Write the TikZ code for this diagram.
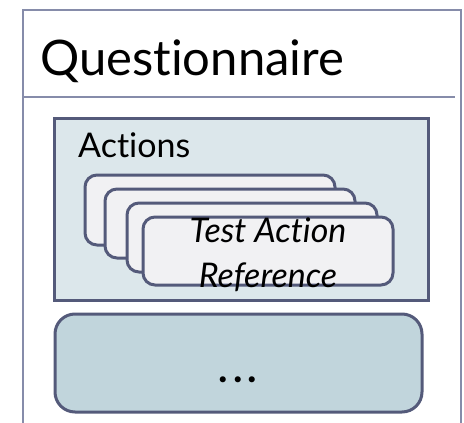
\documentclass[tikz,border=0pt]{standalone}
\usepackage{fontspec}
\setmainfont{Lato}[Ligatures={NoCommon},Contextuals={NoAlternate}]
\definecolor{frameline}{HTML}{868CAA}
\definecolor{boxline}{HTML}{545A7A}
\definecolor{actionsfill}{HTML}{DCE7EB}
\definecolor{cardfill}{HTML}{F1F1F3}
\definecolor{morefill}{HTML}{C1D5DC}
\tikzset{
  px/.style={x=1pt,y=-1pt},
  card/.style={draw=boxline,line width=3pt,fill=cardfill,rounded corners=12pt},
  group/.style={draw=boxline,line width=3pt},
}
\begin{document}
\begin{tikzpicture}[px]
\useasboundingbox (0,0) rectangle (464,423);
% outer frame, open at the bottom
\draw[frameline,line width=2.5pt] (23,423) -- (23,10) -- (461,10) -- (461,423);
\draw[frameline,line width=2.5pt] (23,97) -- (455,97);
\node[anchor=base west,inner sep=0,font=\fontsize{49}{55}\selectfont] (title) at (40,75) {Questionnaire};
% actions container
\draw[group,fill=actionsfill] (54,118) rectangle (428,300);
\node[anchor=base west,inner sep=0,font=\fontsize{34}{40}\selectfont] (actions) at (78,157) {Actions};
% stacked cards
\draw[card] (85,175) rectangle (335,245);
\draw[card] (105,189) rectangle (355,258);
\draw[card] (127,203) rectangle (377,272);
\draw[card] (143,217) rectangle (393,285);
\node[anchor=base,inner sep=0,align=center,font=\itshape\fontsize{34}{45}\selectfont] (ref) at (268,287) {Test Action\\Reference};
% further content
\draw[group,fill=morefill,rounded corners=20pt] (55,314) rectangle (422,412);
\node[anchor=base,inner sep=0,font=\bfseries\fontsize{40}{44}\selectfont] (more) at (238,382) {.\hspace{5pt}.\hspace{5pt}.};
\end{tikzpicture}
\end{document}
